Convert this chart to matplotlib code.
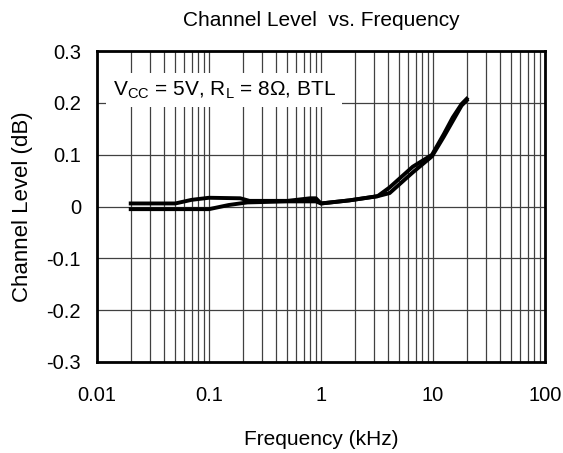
import numpy as np
import matplotlib.pyplot as plt
from matplotlib.ticker import FixedLocator, LogLocator, NullFormatter

plt.rcParams['font.family'] = ['Liberation Sans', 'DejaVu Sans']
plt.rcParams['mathtext.fontset'] = 'custom'
plt.rcParams['mathtext.rm'] = 'Liberation Sans'

# channel level sweeps (kHz, dB)
freq_a = [0.02, 0.05, 0.07, 0.1, 0.19, 0.23, 0.5, 0.8, 0.9, 1.0, 1.8, 3.2, 4.1, 6.6, 9.8, 12.5, 15, 18, 20]
level_a = [0.006, 0.006, 0.013, 0.017, 0.016, 0.011, 0.011, 0.016, 0.016, 0.006, 0.012, 0.02, 0.037, 0.077, 0.1, 0.14, 0.172, 0.198, 0.208]

freq_b = [0.02, 0.1, 0.15, 0.22, 0.5, 0.9, 1.0, 1.8, 3.2, 4.1, 6.6, 9.8, 12.5, 15, 18, 20]
level_b = [-0.005, -0.005, 0.003, 0.008, 0.01, 0.01, 0.006, 0.012, 0.02, 0.026, 0.066, 0.097, 0.135, 0.165, 0.195, 0.205]

y_ticks = [0.3, 0.2, 0.1, 0, -0.1, -0.2, -0.3]
y_labels = ['0.3', '0.2', '0.1', '0', '-0.1', '-0.2', '-0.3']
x_ticks = [0.01, 0.1, 1, 10, 100]
x_labels = ['0.01', '0.1', '1', '10', '100']

fig = plt.figure(figsize=(5.63, 4.53), dpi=100)
ax = fig.add_subplot(111)
fig.subplots_adjust(left=0.1723, right=0.968, top=0.887, bottom=0.201)

ax.plot(freq_a, level_a, color='black', lw=2.8, solid_joinstyle='round', zorder=3)
ax.plot(freq_b, level_b, color='black', lw=2.8, solid_joinstyle='round', zorder=3)

ax.set_xscale('log')
ax.set_xlim(0.01, 100)
ax.set_ylim(-0.3, 0.3)
ax.set_xticks(x_ticks)
ax.set_xticklabels(x_labels)
ax.xaxis.set_minor_locator(LogLocator(base=10, subs=np.arange(2, 10)))
ax.xaxis.set_minor_formatter(NullFormatter())
ax.yaxis.set_major_locator(FixedLocator(y_ticks))
ax.set_yticklabels(y_labels)

ax.grid(which='major', axis='both', color='#404040', lw=0.9)
ax.grid(which='minor', axis='x', color='#404040', lw=0.9)
ax.tick_params(which='both', length=0, labelsize=14.5)
ax.tick_params(axis='x', pad=17)
ax.tick_params(axis='y', pad=11.5)

for sp in ax.spines.values():
    sp.set_linewidth(2)
    sp.set_zorder(4)

ax.text(0.035, 0.874, r'V$_{\mathrm{CC}}$ = 5V, R$_{\mathrm{L}}$ = 8Ω, BTL',
        transform=ax.transAxes, fontsize=15, va='center', ha='left', zorder=3,
        bbox=dict(boxstyle='square,pad=0.3', facecolor='white', edgecolor='none'))

ax.set_title('Channel Level  vs. Frequency', fontsize=15, pad=18)
ax.set_xlabel('Frequency (kHz)', fontsize=15, labelpad=18)
ax.set_ylabel('Channel Level (dB)', fontsize=16, labelpad=10)

plt.savefig('out.png', dpi=100)
